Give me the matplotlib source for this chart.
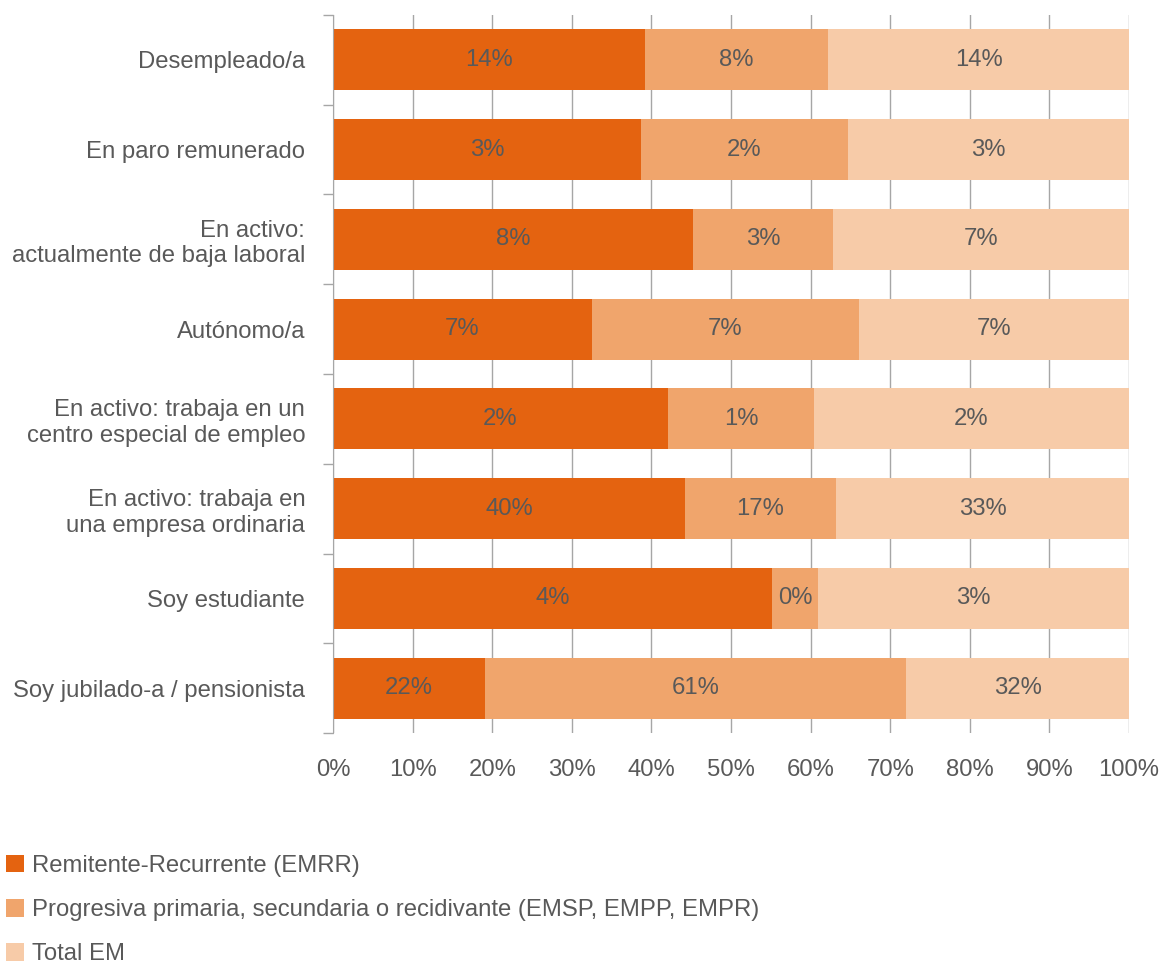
import matplotlib
matplotlib.use("Agg")
import matplotlib.pyplot as plt
from matplotlib.ticker import FixedLocator, PercentFormatter

plt.rcParams['font.family'] = ['Liberation Sans', 'DejaVu Sans']

categories = [
    "Desempleado/a",
    "En paro remunerado",
    "En activo:\nactualmente de baja laboral",
    "Autónomo/a",
    "En activo: trabaja en un\ncentro especial de empleo",
    "En activo: trabaja en\nuna empresa ordinaria",
    "Soy estudiante",
    "Soy jubilado-a / pensionista",
]
series_names = [
    "Remitente-Recurrente (EMRR)",
    "Progresiva primaria, secundaria o recidivante (EMSP, EMPP, EMPR)",
    "Total EM",
]
# bar shares (percent of each row)
share_emrr = [39.2, 38.7, 45.2, 32.5, 42.1, 44.2, 55.2, 19.1]
share_prog = [23.0, 26.0, 17.6, 33.6, 18.3, 19.0, 5.7, 52.9]
share_total = [37.8, 35.3, 37.2, 33.9, 39.6, 36.8, 39.1, 28.0]
# printed labels
label_emrr = ["14%", "3%", "8%", "7%", "2%", "40%", "4%", "22%"]
label_prog = ["8%", "2%", "3%", "7%", "1%", "17%", "0%", "61%"]
label_total = ["14%", "3%", "7%", "7%", "2%", "33%", "3%", "32%"]

colors = ["#E46310", "#F0A56C", "#F7CBA8"]
text_color = "#595959"
FS = 17.2

fig = plt.figure(figsize=(11.59, 9.63), dpi=100)
ax = fig.add_axes([333/1159, 1-733/963, 796/1159, 718/963])

y = list(range(len(categories)))
left = [0.0]*len(categories)
for shares, labels, col, name in zip([share_emrr, share_prog, share_total],
                                     [label_emrr, label_prog, label_total],
                                     colors, series_names):
    bars = ax.barh(y, shares, left=left, height=0.68, color=col, label=name, zorder=2)
    ax.bar_label(bars, labels=labels, label_type='center', color=text_color, fontsize=FS)
    left = [l + s for l, s in zip(left, shares)]

ax.set_xlim(0, 100)
ax.set_ylim(len(categories)-0.5, -0.5)
ax.set_xticks(range(0, 101, 10))
ax.xaxis.set_major_formatter(PercentFormatter(decimals=0))
ax.tick_params(axis='x', length=0, pad=19, labelsize=FS, labelcolor=text_color)
ax.grid(axis='x', color='#A6A6A6', linewidth=1, zorder=0)
ax.set_axisbelow(True)

ax.set_yticks(y)
ax.set_yticklabels(categories, linespacing=1.2)
ax.yaxis.set_minor_locator(FixedLocator([i - 0.5 for i in range(len(categories)+1)]))
ax.tick_params(axis='y', which='major', length=0, pad=20, labelsize=FS, labelcolor=text_color)
ax.tick_params(axis='y', which='minor', length=7, color='#A6A6A6', width=1)

for s in ['top', 'right', 'bottom']:
    ax.spines[s].set_visible(False)
ax.spines['left'].set_color('#A6A6A6')

leg = fig.legend(loc='upper left', bbox_to_anchor=(6/1159, 1-855/963), frameon=False,
                 fontsize=FS, handlelength=0.75, handleheight=0.75, handletextpad=0.33,
                 labelspacing=0.92, borderpad=0, borderaxespad=0)
for t in leg.get_texts():
    t.set_color(text_color)

fig.savefig("out.png", dpi=100)
